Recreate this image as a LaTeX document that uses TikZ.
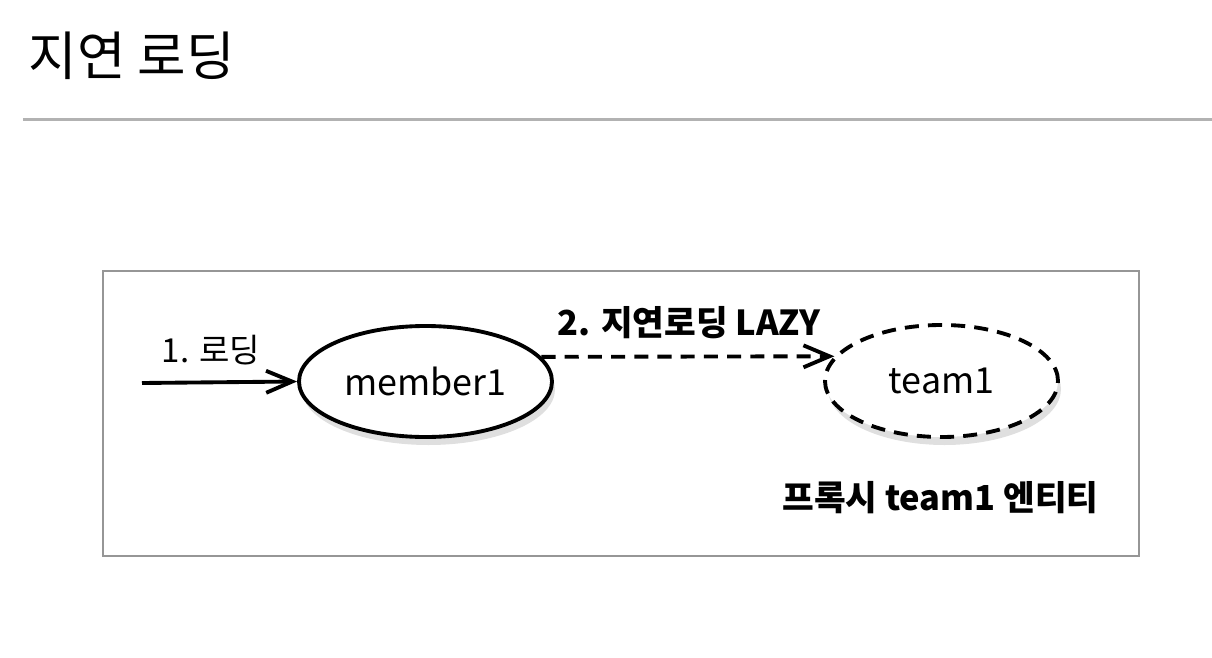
\documentclass[tikz,border=0pt]{standalone}
\usepackage{fontspec}
\setmainfont{Noto Sans CJK KR}
\usetikzlibrary{shapes.geometric,arrows.meta,shadows}
\definecolor{framegray}{RGB}{150,150,150}
\definecolor{rulegray}{RGB}{178,178,178}
\tikzset{entity/.style = {draw, fill=white, line width=1.1pt, ellipse, inner sep=0pt, font=\fontsize{10.2}{12}\selectfont,
                          drop shadow={opacity=0.25, shadow xshift=0.3mm, shadow yshift=-0.8mm}},
         proxy/.style = {entity, dash pattern=on 4pt off 2.6pt},
         lbl/.style = {inner sep=0pt, font=\fontsize{9.4}{11}\selectfont},
         boldlbl/.style = {inner sep=0pt, font=\fontsize{9.8}{12}\selectfont\bfseries},
         load/.style = {-{Straight Barb[length=2.6mm,width=2.2mm]}, line width=1.1pt}}

\begin{document}
\begin{tikzpicture}
        \useasboundingbox (0,0) rectangle (12.12,-6.58);
        \node[inner sep=0pt, anchor=base west, font=\fontsize{15}{18}\selectfont](title)at(0.28,-0.75){지연 로딩};
        \draw[rulegray, line width=0.6pt](0.23,-1.195)--(12.12,-1.195);

        \draw[framegray, line width=0.5pt](1.03,-2.71)rectangle(11.39,-5.56);

        \node[entity, minimum width=2.53cm, minimum height=1.11cm](member1)at(4.255,-3.815){member1};
        \node[proxy, minimum width=2.33cm, minimum height=1.12cm](team1)at(9.415,-3.81){team1};

        \coordinate(start)at(1.42,-3.83);
        \node[lbl, anchor=base west](step1)at(1.61,-3.62){1. 로딩};
        \draw[load](start)--(member1.west);

        \node[boldlbl, anchor=base](step2)at(6.89,-3.35){2. 지연로딩 LAZY};
        \draw[load, dash pattern=on 4pt off 2.6pt](member1.12)--(team1.167);

        \node[boldlbl, anchor=base](proxylbl)at(9.405,-5.10){프록시 team1 엔티티};
    \end{tikzpicture}
\end{document}
